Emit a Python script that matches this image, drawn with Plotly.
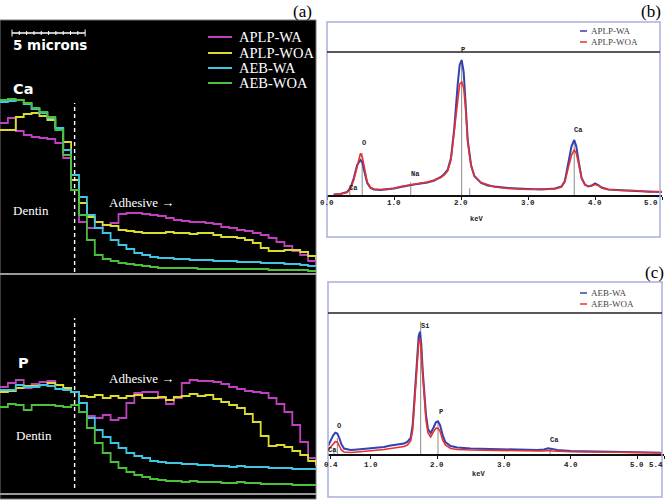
import plotly.graph_objects as go

W, H = 666, 501


def px(x):
    return x / W


def py(y):
    return 1 - y / H


# ---------------- DATA ----------------
# (a) EDS line scans, distance in microns, counts in arbitrary units
DISTANCE_UM = [0.00, 0.54, 1.08, 1.62, 2.16, 2.70, 3.24, 3.78, 4.32, 4.86,
               5.40, 5.94, 6.48, 7.02, 7.56, 8.10, 8.64, 9.18, 9.72, 10.26,
               10.80, 11.34, 11.88, 12.42, 12.96, 13.50, 14.04, 14.58, 15.12, 15.66,
               16.20, 16.74, 17.28, 17.82, 18.36, 18.90, 19.44, 19.98, 20.52, 21.06,
               21.60]
SERIES_A = ["APLP-WA", "APLP-WOA", "AEB-WA", "AEB-WOA"]

CA_APLP_WA = [149, 154, 141, 137, 135, 134, 133, 129, 114, 82,
              50, 44, 44, 47, 49, 58, 59, 59, 58, 57,
              56, 54, 52, 51, 50, 50, 49, 48, 45, 44,
              42, 41, 39, 37, 34, 30, 26, 21, 17, 11, 6]
CA_APLP_WOA = [142, 142, 155, 158, 159, 156, 152, 144, 130, 92,
               69, 55, 50, 47, 46, 42, 41, 40, 39, 39,
               39, 40, 39, 39, 38, 39, 39, 37, 35, 35,
               34, 32, 29, 24, 21, 21, 22, 22, 20, 16, 12]
CA_AEB_WA = [170, 171, 172, 168, 163, 159, 154, 144, 122, 97,
             75, 57, 44, 39, 32, 27, 23, 19, 17, 15,
             14, 14, 13, 13, 12, 12, 12, 11, 11, 11,
             10, 10, 10, 9, 9, 9, 8, 8, 7, 6, 5]
CA_AEB_WOA = [172, 173, 172, 169, 164, 160, 155, 142, 117, 82,
              57, 32, 17, 13, 11, 9, 8, 7, 6, 5,
              4, 4, 4, 4, 4, 3, 3, 3, 3, 3,
              3, 3, 3, 3, 2, 2, 2, 2, 2, 1, 1]

P_APLP_WA = [105, 109, 112, 104, 108, 110, 111, 107, 103, 100,
             89, 76, 74, 77, 72, 74, 89, 99, 100, 100,
             94, 88, 94, 109, 112, 111, 111, 110, 108, 105,
             103, 101, 100, 99, 94, 88, 80, 67, 50, 34, 25]
P_APLP_WOA = [100, 101, 104, 106, 106, 107, 109, 107, 104, 100,
              96, 95, 97, 94, 96, 94, 96, 97, 94, 94,
              95, 92, 95, 96, 98, 96, 97, 93, 90, 87,
              84, 78, 70, 56, 46, 47, 45, 41, 37, 31, 27]
P_AEB_WA = [102, 102, 107, 105, 105, 107, 106, 103, 102, 100,
            89, 74, 62, 55, 49, 44, 39, 36, 34, 31,
            30, 29, 29, 28, 28, 27, 27, 26, 26, 25,
            26, 25, 25, 25, 24, 24, 24, 23, 23, 23, 22]
P_AEB_WOA = [85, 88, 87, 82, 87, 87, 87, 86, 85, 87,
             80, 64, 49, 39, 30, 24, 20, 17, 15, 13,
             12, 11, 11, 10, 11, 10, 10, 10, 9, 9,
             10, 9, 9, 8, 8, 8, 8, 7, 7, 7, 6]

INTERFACE_UM = 5.1
SCALE_BAR_UM = 5

# (b) EDS spectra APLP
KEV_B = [0.10, 0.20, 0.30, 0.35, 0.40, 0.45, 0.50, 0.53, 0.56, 0.60,
         0.65, 0.70, 0.80, 0.90, 1.00, 1.10, 1.20, 1.25, 1.30, 1.40,
         1.50, 1.60, 1.70, 1.75, 1.80, 1.85, 1.90, 1.95, 1.98, 2.01,
         2.04, 2.07, 2.10, 2.15, 2.20, 2.30, 2.40, 2.50, 2.70, 3.00,
         3.20, 3.40, 3.50, 3.55, 3.60, 3.65, 3.69, 3.72, 3.76, 3.80,
         3.85, 3.90, 3.95, 4.00, 4.05, 4.10, 4.20, 4.40, 4.60, 4.80,
         5.00]
B_APLP_WA = [5, 10, 30, 70, 170, 300, 350, 320, 230, 120,
             70, 55, 50, 55, 65, 80, 95, 105, 105, 115,
             125, 145, 180, 210, 250, 370, 670, 1100, 1300, 1350,
             1230, 900, 550, 300, 190, 120, 95, 85, 70, 60,
             55, 65, 85, 140, 300, 490, 550, 490, 320, 170,
             105, 85, 95, 115, 100, 75, 55, 45, 40, 35,
             30]
B_APLP_WOA = [5, 10, 25, 60, 150, 283, 417, 370, 250, 130,
              75, 60, 55, 60, 68, 85, 95, 100, 110, 120,
              130, 150, 175, 200, 240, 350, 650, 970, 1110, 1130,
              1070, 850, 530, 290, 185, 125, 100, 80, 65, 55,
              60, 60, 80, 130, 270, 400, 450, 420, 300, 165,
              100, 90, 90, 105, 95, 70, 55, 45, 45, 30,
              35]
B_TICKS = [0, 1, 2, 3, 4, 5]
B_TICK_LABELS = ["0.0", "1.0", "2.0", "3.0", "4.0", "5.0"]
B_ELEMENTS = ["Ca", "O", "Na", "P", "Ca"]
B_ELEMENT_KEV = [0.34, 0.525, 1.25, 2.01, 3.69]
B_ELEMENT_TOP = [40, 420, 130, 1350, 550]

# (c) EDS spectra AEB
KEV_C = [0.36, 0.40, 0.44, 0.47, 0.50, 0.53, 0.56, 0.60, 0.70, 0.80,
         0.90, 1.00, 1.10, 1.20, 1.30, 1.40, 1.50, 1.55, 1.60, 1.63,
         1.66, 1.69, 1.72, 1.74, 1.76, 1.78, 1.80, 1.83, 1.86, 1.90,
         1.94, 1.98, 2.01, 2.04, 2.08, 2.12, 2.20, 2.30, 2.50, 2.80,
         3.00, 3.30, 3.50, 3.60, 3.66, 3.72, 3.80, 4.00, 4.30, 4.60,
         5.00, 5.37]
C_AEB_WA = [80, 140, 190, 213, 205, 160, 100, 55, 40, 45,
            50, 55, 60, 70, 85, 95, 105, 120, 160, 290,
            590, 940, 1180, 1223, 1090, 840, 620, 390, 250, 210,
            260, 320, 325, 290, 190, 120, 80, 65, 55, 50,
            47, 42, 40, 45, 57, 50, 40, 30, 25, 20,
            17, 13]
C_AEB_WOA = [40, 70, 110, 123, 120, 80, 40, 20, 15, 20,
             25, 30, 35, 45, 55, 65, 75, 90, 130, 240,
             540, 890, 1110, 1157, 1040, 790, 560, 340, 210, 170,
             220, 260, 257, 230, 140, 90, 55, 45, 40, 35,
             33, 30, 30, 30, 35, 30, 27, 23, 20, 17,
             15, 12]
C_TICKS = [0.4, 1, 2, 3, 4, 5, 5.4]
C_TICK_LABELS = ["0.4", "1.0", "2.0", "3.0", "4.0", "5.0", "5.4"]
C_ELEMENTS = ["Ca", "O", "Si", "P", "Ca"]
C_ELEMENT_KEV = [0.45, 0.50, 1.75, 2.01, 3.69]
C_ELEMENT_TOP = [60, 160, 1323, 340, 60]

# ---------------- STYLE ----------------
COLORS_A = ["#c040c0", "#dcdc30", "#3ec6e4", "#4cc03c"]
BLUE = "#3342b0"
RED = "#e8302c"
SERIF = "Liberation Serif"
SANS_BOLD = "DejaVu Sans"
MONO = "Liberation Mono"
FRAME = "#a9aedb"

fig = go.Figure()

ca_series = [CA_APLP_WA, CA_APLP_WOA, CA_AEB_WA, CA_AEB_WOA]
p_series = [P_APLP_WA, P_APLP_WOA, P_AEB_WA, P_AEB_WOA]
for name, vals, col in zip(SERIES_A, ca_series, COLORS_A):
    fig.add_trace(go.Scatter(x=DISTANCE_UM, y=vals, name=name, mode="lines",
                             line=dict(color=col, width=1.8, shape="hv"),
                             xaxis="x", yaxis="y", showlegend=False))
for name, vals, col in zip(SERIES_A, p_series, COLORS_A):
    fig.add_trace(go.Scatter(x=DISTANCE_UM, y=vals, name=name, mode="lines",
                             line=dict(color=col, width=1.8, shape="hv"),
                             xaxis="x2", yaxis="y2", showlegend=False))

fig.add_trace(go.Scatter(x=KEV_B, y=B_APLP_WA, name="APLP-WA", mode="lines",
                         line=dict(color=BLUE, width=2), xaxis="x3", yaxis="y3",
                         showlegend=False))
fig.add_trace(go.Scatter(x=KEV_B, y=B_APLP_WOA, name="APLP-WOA", mode="lines",
                         line=dict(color=RED, width=1.6), xaxis="x3", yaxis="y3",
                         showlegend=False))
fig.add_trace(go.Scatter(x=KEV_C, y=C_AEB_WA, name="AEB-WA", mode="lines",
                         line=dict(color=BLUE, width=2), xaxis="x4", yaxis="y4",
                         showlegend=False))
fig.add_trace(go.Scatter(x=KEV_C, y=C_AEB_WOA, name="AEB-WOA", mode="lines",
                         line=dict(color=RED, width=1.6), xaxis="x4", yaxis="y4",
                         showlegend=False))

shapes = []
annotations = []

# ---- panel (a) background ----
shapes.append(dict(type="rect", xref="paper", yref="paper", x0=px(0), x1=px(316),
                   y0=py(499), y1=py(20), fillcolor="black",
                   line=dict(color="#777", width=1), layer="below"))
for yy in (274, 494):
    shapes.append(dict(type="line", xref="paper", yref="paper", x0=px(0), x1=px(316),
                       y0=py(yy), y1=py(yy), line=dict(color="#9a9a9a", width=2)))

# interface dashed lines
shapes.append(dict(type="line", xref="x", yref="y", x0=INTERFACE_UM, x1=INTERFACE_UM,
                   y0=0, y1=169, line=dict(color="white", width=1.4, dash="4px,3px")))
shapes.append(dict(type="line", xref="x2", yref="y2", x0=INTERFACE_UM, x1=INTERFACE_UM,
                   y0=4, y1=174, line=dict(color="white", width=1.4, dash="4px,3px")))

# scale bar
sb0 = 0.82
shapes.append(dict(type="line", xref="x", yref="paper", x0=sb0, x1=sb0 + SCALE_BAR_UM,
                   y0=py(33), y1=py(33), line=dict(color="white", width=1.3)))
for i in range(11):
    xx = sb0 + i * SCALE_BAR_UM / 10
    hh = 3.5 if i in (0, 10) else 2
    shapes.append(dict(type="line", xref="x", yref="paper", x0=xx, x1=xx,
                       y0=py(33 + hh), y1=py(33 - hh), line=dict(color="white", width=1)))
annotations.append(dict(text="<b>5 microns</b>", xref="paper", yref="paper",
                        x=px(11), y=py(45), xanchor="left", yanchor="middle",
                        showarrow=False, font=dict(family=SANS_BOLD, size=13.5, color="white")))

# manual legend panel (a)
leg_rows = [37, 53, 68, 83]
for name, col, yy in zip(SERIES_A, COLORS_A, leg_rows):
    shapes.append(dict(type="line", xref="paper", yref="paper", x0=px(208), x1=px(232),
                       y0=py(yy), y1=py(yy), line=dict(color=col, width=2)))
    annotations.append(dict(text=name, xref="paper", yref="paper", x=px(237), y=py(yy),
                            xanchor="left", yanchor="middle", showarrow=False,
                            font=dict(family=SERIF, size=14.5, color="white")))

# labels
labels = [
    dict(text="(a)", x=px(302), y=py(12), font=dict(family=SERIF, size=17, color="black")),
    dict(text="(b)", x=px(651), y=py(12), font=dict(family=SERIF, size=17, color="black")),
    dict(text="(c)", x=px(654), y=py(272), font=dict(family=SERIF, size=17, color="black")),
    dict(text="<b>Ca</b>", x=px(11), y=py(89), xanchor="left",
         font=dict(family=SANS_BOLD, size=14.5, color="white")),
    dict(text="<b>P</b>", x=px(16), y=py(363), xanchor="left",
         font=dict(family=SANS_BOLD, size=14.5, color="white")),
    dict(text="Dentin", x=px(11), y=py(210), xanchor="left",
         font=dict(family=SERIF, size=13, color="white")),
    dict(text="Dentin", x=px(14), y=py(435), xanchor="left",
         font=dict(family=SERIF, size=13, color="white")),
    dict(text="Adhesive →", x=px(107), y=py(202), xanchor="left",
         font=dict(family=SERIF, size=13, color="white")),
    dict(text="Adhesive →", x=px(107), y=py(378), xanchor="left",
         font=dict(family=SERIF, size=13, color="white")),
]
for a in labels:
    a.setdefault("xref", "paper")
    a.setdefault("yref", "paper")
    a.setdefault("showarrow", False)
    a.setdefault("yanchor", "middle")
    a.setdefault("xanchor", "center")
annotations += labels

# ---- panels (b) and (c) frames ----
for (x0, x1, y0, y1, yline) in [(327, 660, 22, 237, 52), (328, 662, 282, 497, 313)]:
    shapes.append(dict(type="rect", xref="paper", yref="paper", x0=px(x0), x1=px(x1),
                       y0=py(y1), y1=py(y0), line=dict(color=FRAME, width=1.5),
                       fillcolor="rgba(0,0,0,0)"))
    shapes.append(dict(type="line", xref="paper", yref="paper", x0=px(x0), x1=px(x1),
                       y0=py(yline), y1=py(yline), line=dict(color="#222", width=1.5)))

# legends (b), (c)
for (names, rows) in [(["APLP-WA", "APLP-WOA"], [31, 42]), (["AEB-WA", "AEB-WOA"], [293, 304])]:
    for name, col, yy in zip(names, [BLUE, RED], rows):
        shapes.append(dict(type="line", xref="paper", yref="paper", x0=px(580), x1=px(587),
                           y0=py(yy), y1=py(yy), line=dict(color=col, width=1.5)))
        annotations.append(dict(text=name, xref="paper", yref="paper", x=px(589), y=py(yy),
                                xanchor="left", yanchor="middle", showarrow=False,
                                font=dict(family=SERIF, size=9, color="#444")))

# element marker lines
for kev, top in zip(B_ELEMENT_KEV, B_ELEMENT_TOP):
    shapes.append(dict(type="line", xref="x3", yref="y3", x0=kev, x1=kev, y0=0, y1=top,
                       line=dict(color="#8a8a8a", width=1), layer="below"))
shapes.append(dict(type="line", xref="x3", yref="y3", x0=2.13, x1=2.13, y0=0, y1=67,
                   line=dict(color="#8a8a8a", width=1), layer="below"))
for kev, top in zip(C_ELEMENT_KEV, C_ELEMENT_TOP):
    shapes.append(dict(type="line", xref="x4", yref="y4", x0=kev, x1=kev, y0=0, y1=top,
                       line=dict(color="#8a8a8a", width=1), layer="below"))

b_label_shift = [(4, -3), (2, 4), (5, 2), (1, 4), (4, 4)]
for el, kev, top, (dx, dy) in zip(B_ELEMENTS, B_ELEMENT_KEV, B_ELEMENT_TOP, b_label_shift):
    annotations.append(dict(text="<b>" + el + "</b>", xref="x3", yref="y3", x=kev, y=top,
                            xshift=dx, yshift=dy, yanchor="bottom", showarrow=False,
                            font=dict(family=MONO, size=7, color="#222")))
c_label_shift = [(-2, -8), (2, 6), (4, -10), (3, 2), (4, 2)]
for el, kev, top, (dx, dy) in zip(C_ELEMENTS, C_ELEMENT_KEV, C_ELEMENT_TOP, c_label_shift):
    annotations.append(dict(text="<b>" + el + "</b>", xref="x4", yref="y4", x=kev, y=top,
                            xshift=dx, yshift=dy, yanchor="bottom", showarrow=False,
                            font=dict(family=MONO, size=7, color="#222")))

# tick labels of spectra (drawn as annotations for exact placement);
# the last label of each axis is right-aligned so it stays inside the figure
for i, (v, t) in enumerate(zip(B_TICKS, B_TICK_LABELS)):
    last = i == len(B_TICKS) - 1
    annotations.append(dict(text="<b>" + t + "</b>", xref="x3", yref="paper", x=v, y=py(203),
                            xanchor="right" if last else "center", xshift=-2 if last else 0,
                            yanchor="middle", showarrow=False,
                            font=dict(family=MONO, size=7.5, color="#222")))
for i, (v, t) in enumerate(zip(C_TICKS, C_TICK_LABELS)):
    last = i == len(C_TICKS) - 1
    annotations.append(dict(text="<b>" + t + "</b>", xref="x4", yref="paper", x=v, y=py(465),
                            xanchor="right" if last else "center", xshift=1 if last else 0,
                            yanchor="middle", showarrow=False,
                            font=dict(family=MONO, size=7.5, color="#222")))

annotations.append(dict(text="<b>keV</b>", xref="paper", yref="paper", x=px(485), y=py(219),
                        showarrow=False, font=dict(family=MONO, size=7, color="#222")))
annotations.append(dict(text="<b>keV</b>", xref="paper", yref="paper", x=px(487), y=py(480),
                        showarrow=False, font=dict(family=MONO, size=7, color="#222")))

spec_x = dict(showline=True, linecolor="#111", linewidth=1.5, ticks="outside", ticklen=3,
              tickcolor="#111", showgrid=False, zeroline=False, showticklabels=False)

fig.update_layout(
    width=W, height=H, margin=dict(l=0, r=0, t=0, b=0),
    paper_bgcolor="white", plot_bgcolor="rgba(0,0,0,0)", showlegend=False,
    xaxis=dict(domain=[0, px(316)], range=[0, 21.6], visible=False, anchor="y"),
    yaxis=dict(domain=[py(272), py(20)], range=[0, 252], visible=False, anchor="x"),
    xaxis2=dict(domain=[0, px(316)], range=[0, 21.6], visible=False, anchor="y2"),
    yaxis2=dict(domain=[py(492), py(276)], range=[0, 216], visible=False, anchor="x2"),
    xaxis3=dict(domain=[px(327), px(662)], range=[0, 5], anchor="y3",
                tickvals=B_TICKS, **spec_x),
    yaxis3=dict(domain=[py(195), py(52)], range=[0, 1430], visible=False, anchor="x3"),
    xaxis4=dict(domain=[px(328), px(664)], range=[0.36, 5.4], anchor="y4",
                tickvals=C_TICKS, **spec_x),
    yaxis4=dict(domain=[py(454), py(313)], range=[0, 1410], visible=False, anchor="x4"),
    shapes=shapes, annotations=annotations,
)

fig.write_html(
    "out.html",
    config={"displayModeBar": False},
    post_script="document.body.style.margin='0';document.body.style.overflow='hidden';",
)
